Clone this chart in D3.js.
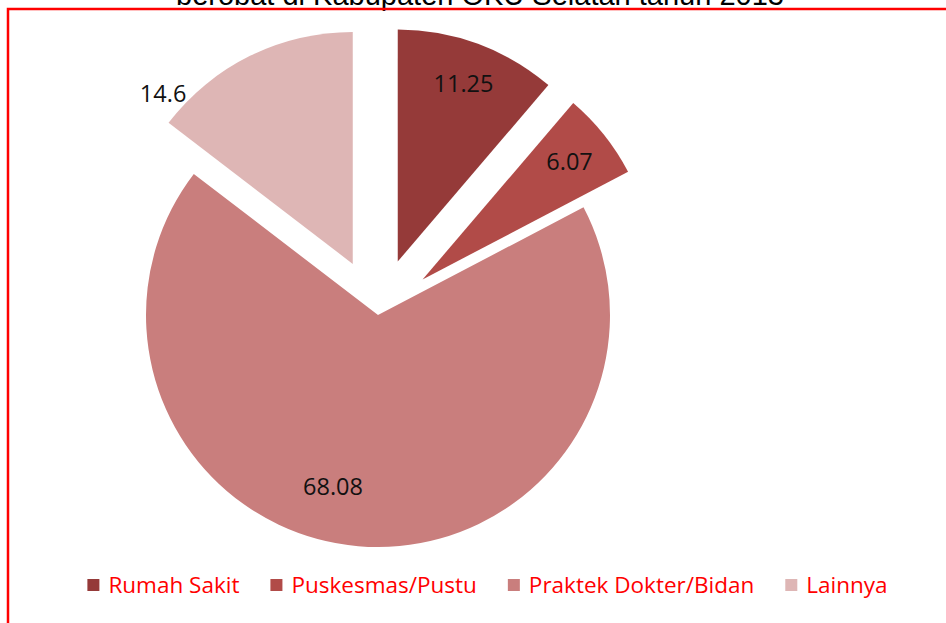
<!DOCTYPE html>
<html>
<head>
<meta charset="utf-8">
<script src="https://cdn.jsdelivr.net/npm/d3@7"></script>
<style>
  body { margin: 0; background: #fff; }
  svg { display: block; }
</style>
</head>
<body>
<svg id="pie-container"></svg>
<script>
// Data
const categories = ["Rumah Sakit", "Puskesmas/Pustu", "Praktek Dokter/Bidan", "Lainnya"];
const values = [11.25, 6.07, 68.08, 14.6];
const valueLabels = ["11.25", "6.07", "68.08", "14.6"];
const titleText = "berobat di Kabupaten OKU Selatan tahun 2013";

// Sizes
const width = 946;
const height = 623;
const cx = 378;
const cy = 315;
const radius = 232;

const color = d3.scaleOrdinal()
    .domain(categories)
    .range(["#953a39", "#b14b48", "#c97e7d", "#deb6b5"]);

// how far each slice is pulled out, and label tweaks (Excel "best fit")
const explode = { "Rumah Sakit": 57, "Puskesmas/Pustu": 57, "Praktek Dokter/Bidan": 0, "Lainnya": 57 };
const labelPos = {
    "Rumah Sakit": { r: 190, da: 0 },
    "Puskesmas/Pustu": { r: 188, da: 0 },
    "Praktek Dokter/Bidan": { r: 178, da: 0.17 },
    "Lainnya": { r: 255, da: -0.38 }
};

const svg = d3.select("#pie-container")
    .attr("width", width)
    .attr("height", height)
    .attr("viewBox", [0, 0, width, height]);

// Title (cut by the top of the picture)
svg.append("text")
    .attr("x", 480)
    .attr("y", 5)
    .attr("text-anchor", "middle")
    .attr("font-family", "'Liberation Sans', Arial, sans-serif")
    .attr("font-size", 29)
    .attr("fill", "#000")
    .text(titleText);

// Red frame
svg.append("rect")
    .attr("x", 8)
    .attr("y", 9)
    .attr("width", 980)
    .attr("height", 660)
    .attr("fill", "none")
    .attr("stroke", "#ff0000")
    .attr("stroke-width", 2.5);

const data = categories.map((c, i) => ({ cat: c, value: values[i], label: valueLabels[i] }));

const pie = d3.pie()
    .sort(null)
    .value(d => d.value);

const arc = d3.arc()
    .innerRadius(0)
    .outerRadius(radius);

const arcs = pie(data);

const polar = (a, r) => [r * Math.sin(a), -r * Math.cos(a)];

const g = svg.append("g")
    .attr("transform", `translate(${cx},${cy})`);

const slice = g.selectAll("g.slice")
    .data(arcs)
    .join("g")
    .attr("class", "slice")
    .attr("transform", d => {
        const mid = (d.startAngle + d.endAngle) / 2;
        const [dx, dy] = polar(mid, explode[d.data.cat]);
        return `translate(${dx},${dy})`;
    });

slice.append("path")
    .attr("d", arc)
    .attr("fill", d => color(d.data.cat));

slice.append("text")
    .attr("transform", d => {
        const p = labelPos[d.data.cat];
        const mid = (d.startAngle + d.endAngle) / 2 + p.da;
        const [x, y] = polar(mid, p.r);
        return `translate(${x},${y})`;
    })
    .attr("text-anchor", "middle")
    .attr("dy", "0.35em")
    .attr("font-family", "'Open Sans', sans-serif")
    .attr("font-size", 23.5)
    .attr("fill", "#111")
    .text(d => d.data.label);

// Legend
const legend = svg.append("g")
    .attr("font-family", "'Open Sans', sans-serif")
    .attr("font-size", 22.5);

const items = legend.selectAll("g")
    .data(categories)
    .join("g");

items.append("rect")
    .attr("width", 12)
    .attr("height", 12)
    .attr("y", -6)
    .attr("fill", d => color(d));

items.append("text")
    .attr("x", 21)
    .attr("dy", "0.35em")
    .attr("fill", "#ff0000")
    .text(d => d);

// lay the legend items out in a row, centred
let xPos = 0;
const offsets = [];
items.each(function() {
    const w = d3.select(this).select("text").node().getComputedTextLength() + 21;
    offsets.push(xPos);
    xPos += w + 31;
});
const total = xPos - 31;
const startX = 487.5 - total / 2;
items.attr("transform", (d, i) => `translate(${startX + offsets[i]},585)`);
</script>
</body>
</html>
